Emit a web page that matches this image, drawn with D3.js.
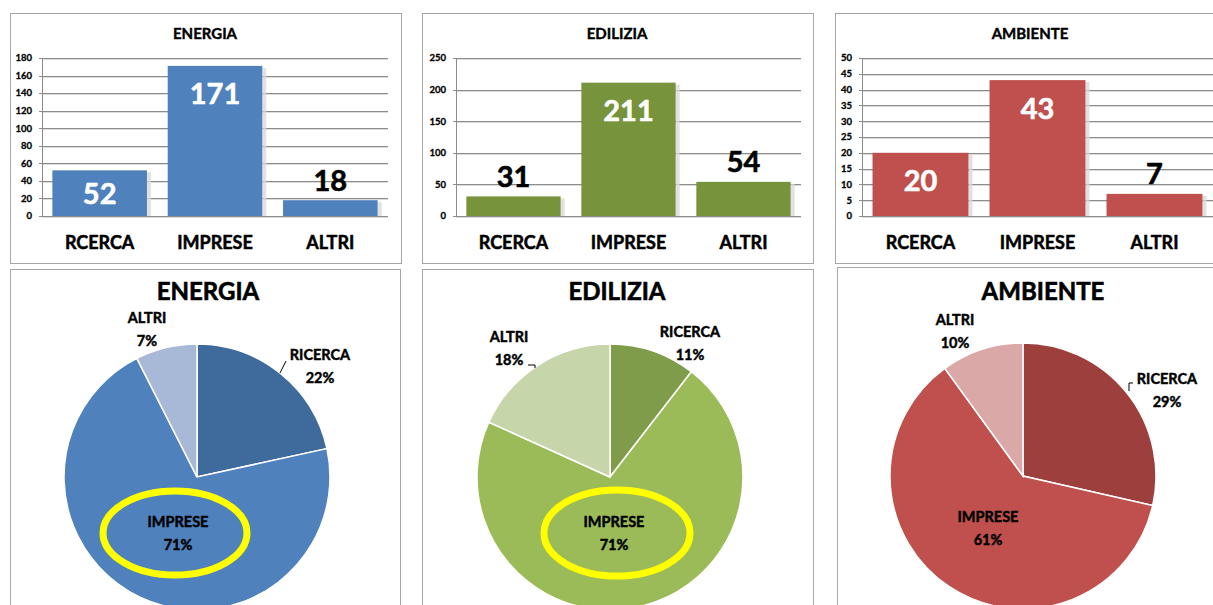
<!DOCTYPE html>
<html><head><meta charset="utf-8">
<script src="https://cdn.jsdelivr.net/npm/d3@7"></script>
<style>
html,body{margin:0;padding:0;background:#fff;}
svg{display:block;font-family:Lato,"Open Sans",sans-serif;font-weight:bold;}
svg text{paint-order:stroke;stroke-linejoin:round;}
</style></head>
<body>
<svg id="c" width="1213" height="605"></svg>
<script>
// ---- data ----
const sectors = ["ENERGIA", "EDILIZIA", "AMBIENTE"];
const barCategories = ["RCERCA", "IMPRESE", "ALTRI"];
const pieCategories = ["RICERCA", "IMPRESE", "ALTRI"];
const energiaValues = [52, 171, 18];
const ediliziaValues = [31, 211, 54];
const ambienteValues = [20, 43, 7];
const energiaTicks = [0, 20, 40, 60, 80, 100, 120, 140, 160, 180];
const ediliziaTicks = [0, 50, 100, 150, 200, 250];
const ambienteTicks = [0, 5, 10, 15, 20, 25, 30, 35, 40, 45, 50];
const energiaPct = [22, 71, 7];
const ediliziaPct = [11, 71, 18];
const ambientePct = [29, 61, 10];

// ---- layout / style ----
const svg = d3.select("#c");
const panels = [
  {title: sectors[0], values: energiaValues, ticks: energiaTicks, pct: energiaPct,
   barBox: [10, 13, 391, 250], plot: [42, 388], pieBox: [10, 269, 390, 360],
   pieC: [197, 477], titleX: 205, pieTitleX: 208,
   barColor: "#4f81bd", pieColors: ["#3f6a9c", "#4f81bd", "#a8b8d7"],
   labels: [[123, -122], [-19, 45], [-50, -159]],
   leader: [[83, -104], [89, -116]],
   ellipse: [-22, 56, 72, 42]},
  {title: sectors[1], values: ediliziaValues, ticks: ediliziaTicks, pct: ediliziaPct,
   barBox: [422, 13, 391, 250], plot: [456, 801], pieBox: [422, 269, 391, 360],
   pieC: [610, 477], titleX: 617, pieTitleX: 617,
   barColor: "#77933c", pieColors: ["#7f9c4b", "#9bbb59", "#c6d6aa"],
   labels: [[80, -145], [4, 45], [-101, -140]],
   leader: [[-82, -112], [-75, -112], [-75, -109]],
   ellipse: [7, 56, 73, 43]},
  {title: sectors[2], values: ambienteValues, ticks: ambienteTicks, pct: ambientePct,
   barBox: [835, 13, 400, 250], plot: [862, 1213], pieBox: [837, 267, 400, 360],
   pieC: [1023, 476], titleX: 1030, pieTitleX: 1043,
   barColor: "#c0504d", pieColors: ["#9c3f3d", "#c0504d", "#d9a8a7"],
   labels: [[144, -97], [-35, 41], [-68, -156]],
   leader: [[110, -93], [106, -93], [106, -85]],
   ellipse: null}
];
const yTop = 58, yBottom = 216, pieR = 133;

function txt(sel, color, w) {
  return sel.attr("fill", color).attr("stroke", color).attr("stroke-width", w);
}

panels.forEach(p => {
  // ---------- bar chart ----------
  const g = svg.append("g");
  g.append("rect").attr("x", p.barBox[0] + 0.5).attr("y", p.barBox[1] + 0.5)
    .attr("width", p.barBox[2]).attr("height", p.barBox[3])
    .attr("fill", "#fff").attr("stroke", "#a6a6a6");
  txt(g.append("text").attr("x", p.titleX).attr("y", 39).attr("text-anchor", "middle")
    .attr("font-size", 15), "#000", 0.4).text(p.title);

  const x = d3.scaleBand().domain(barCategories).range(p.plot)
    .paddingInner(0.18).paddingOuter(0.09);
  const y = d3.scaleLinear().domain([0, d3.max(p.ticks)]).range([yBottom, yTop]);

  // gridlines
  g.selectAll(".grid").data(p.ticks).join("line")
    .attr("x1", p.plot[0] - 3).attr("x2", p.plot[1])
    .attr("y1", d => Math.round(y(d)) + 0.5).attr("y2", d => Math.round(y(d)) + 0.5)
    .attr("stroke", "#8c8c8c").attr("stroke-width", 1);
  g.selectAll(".grid2").data(p.ticks).join("line")
    .attr("x1", p.plot[0]).attr("x2", p.plot[1])
    .attr("y1", d => Math.round(y(d)) + 1.5).attr("y2", d => Math.round(y(d)) + 1.5)
    .attr("stroke", "#dcdcdc").attr("stroke-width", 1);
  g.append("line").attr("x1", p.plot[0] + 0.5).attr("x2", p.plot[0] + 0.5)
    .attr("y1", yTop).attr("y2", yBottom).attr("stroke", "#8c8c8c");

  // tick labels
  txt(g.selectAll(".tick").data(p.ticks).join("text")
    .attr("x", p.plot[0] - 10).attr("y", d => y(d)).attr("dy", "0.35em")
    .attr("text-anchor", "end").attr("font-size", 9.5), "#000", 0.3)
    .text(d => d);

  // bars
  const rows = barCategories.map((c, i) => ({c, v: p.values[i]}));
  g.selectAll(".shadow").data(rows).join("rect")
    .attr("x", d => x(d.c) + x.bandwidth()).attr("y", d => y(d.v) + 2)
    .attr("width", 4).attr("height", d => yBottom - y(d.v) - 2)
    .attr("fill", "#d9d9d9").attr("opacity", 0.8);
  g.selectAll(".bar").data(rows).join("rect")
    .attr("x", d => x(d.c)).attr("y", d => y(d.v))
    .attr("width", x.bandwidth()).attr("height", d => yBottom - y(d.v))
    .attr("fill", p.barColor);

  // value labels
  g.selectAll(".val").data(rows).join("text")
    .attr("x", d => x(d.c) + x.bandwidth() / 2)
    .attr("y", d => {
      const h = yBottom - y(d.v);
      return h > 40 ? y(d.v) + Math.min(28, h / 2) : y(d.v) - 20;
    })
    .attr("dy", "0.36em").attr("text-anchor", "middle").attr("font-size", 29)
    .attr("fill", d => (yBottom - y(d.v)) > 40 ? "#fff" : "#000")
    .attr("stroke", d => (yBottom - y(d.v)) > 40 ? "#fff" : "#000")
    .attr("stroke-width", 0.6)
    .text(d => d.v);

  // category labels
  txt(g.selectAll(".cat").data(barCategories).join("text")
    .attr("x", d => x(d) + x.bandwidth() / 2).attr("y", 249)
    .attr("text-anchor", "middle").attr("font-size", 18), "#000", 0.5)
    .text(d => d);

  // ---------- pie chart ----------
  const pg = svg.append("g");
  pg.append("rect").attr("x", p.pieBox[0] + 0.5).attr("y", p.pieBox[1] + 0.5)
    .attr("width", p.pieBox[2]).attr("height", p.pieBox[3])
    .attr("fill", "#fff").attr("stroke", "#a6a6a6");
  txt(pg.append("text").attr("x", p.pieTitleX).attr("y", 300).attr("text-anchor", "middle")
    .attr("font-size", 24), "#000", 0.6).text(p.title);

  const pie = d3.pie().sort(null).value(d => d.v);
  const arcs = pie(pieCategories.map((c, i) => ({c, v: p.values[i], pct: p.pct[i], i})));
  const arc = d3.arc().innerRadius(0).outerRadius(pieR);
  const cg = pg.append("g").attr("transform", `translate(${p.pieC[0]},${p.pieC[1]})`);
  cg.selectAll("path").data(arcs).join("path")
    .attr("d", arc).attr("fill", d => p.pieColors[d.data.i])
    .attr("stroke", "#fff").attr("stroke-width", 1.5);

  if (p.ellipse) {
    cg.append("ellipse").attr("cx", p.ellipse[0]).attr("cy", p.ellipse[1])
      .attr("rx", p.ellipse[2]).attr("ry", p.ellipse[3])
      .attr("fill", "none").attr("stroke", "#ffff00").attr("stroke-width", 7);
  }
  if (p.leader) {
    cg.append("path").attr("d", d3.line()(p.leader))
      .attr("fill", "none").attr("stroke", "#000").attr("stroke-width", 1);
  }
  const lab = txt(cg.selectAll(".pl").data(arcs).join("text")
    .attr("text-anchor", "middle").attr("font-size", 14.5), "#000", 0.45);
  lab.append("tspan").attr("x", d => p.labels[d.data.i][0])
    .attr("y", d => p.labels[d.data.i][1]).attr("dy", "0.36em").text(d => d.data.c);
  lab.append("tspan").attr("x", d => p.labels[d.data.i][0])
    .attr("y", d => p.labels[d.data.i][1] + 23).attr("dy", "0.36em").text(d => d.data.pct + "%");
});
</script>
</body></html>
